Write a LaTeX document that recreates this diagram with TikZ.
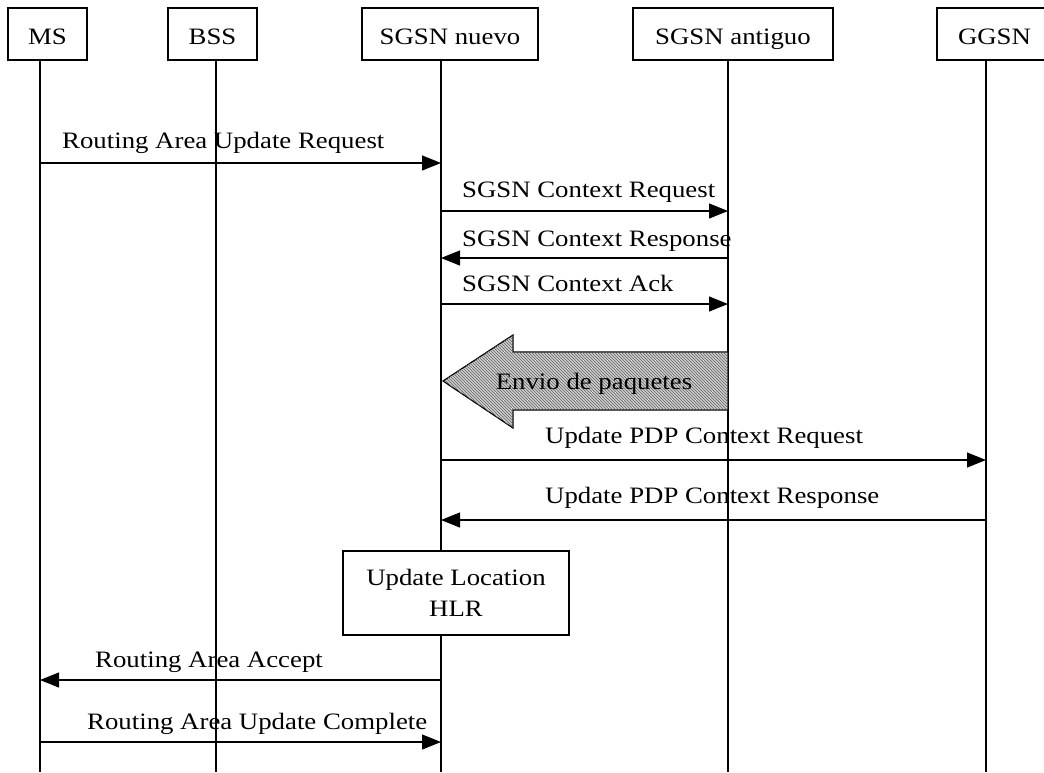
\documentclass[tikz,border=0pt]{standalone}
\usepackage{fontspec}
\setmainfont[FakeStretch=1.14]{Liberation Serif}
\usetikzlibrary{arrows.meta,patterns}
\begin{document}
\begin{tikzpicture}[x=1pt,y=-1pt,
  every node/.style={font=\fontsize{23.5}{31}\selectfont},
  entity/.style={draw,line width=1.2pt,inner sep=0pt,fill=white,
    text height=23pt,text depth=3pt},
  life/.style={line width=1.2pt},
  msg/.style={line width=1.2pt,-{Triangle[length=19pt,width=15pt]}},
  lbl/.style={anchor=base west,inner sep=0pt}]
\useasboundingbox (0,0) rectangle (1044,772);

% entity boxes
\node[entity,minimum width=79pt,minimum height=52pt] (ms) at (47.5,34) {MS};
\node[entity,minimum width=89pt,minimum height=52pt] (bss) at (212.5,34) {BSS};
\node[entity,minimum width=176pt,minimum height=52pt] (sgn) at (450,34) {SGSN nuevo};
\node[entity,minimum width=200pt,minimum height=52pt] (sgo) at (733,34) {SGSN antiguo};
\node[entity,minimum width=115pt,minimum height=52pt] (ggsn) at (994.5,34) {GGSN};

% lifelines
\coordinate (lms) at (40,60);   \coordinate (lbss) at (216,60);
\coordinate (lsgn) at (441,60); \coordinate (lsgo) at (728,60);
\coordinate (lgg) at (986,60);
\coordinate (bot) at (0,772);
\foreach \l in {lms,lbss,lsgn,lsgo,lgg}
  \draw[life] (\l) -- (\l |- bot);

% message rows
\coordinate (r1) at (0,163); \coordinate (r2) at (0,211);
\coordinate (r3) at (0,258); \coordinate (r4) at (0,304);
\coordinate (r5) at (0,460); \coordinate (r6) at (0,520);
\coordinate (r7) at (0,680); \coordinate (r8) at (0,742);

\draw[msg] (lms |- r1) -- (lsgn |- r1);
\node[lbl] (t1) at (62,148) {Routing Area Update Request};
\draw[msg] (lsgn |- r2) -- (lsgo |- r2);
\node[lbl] (t2) at (462,197) {SGSN Context Request};
\draw[msg] (lsgo |- r3) -- (lsgn |- r3);
\node[lbl] (t3) at (462,246) {SGSN Context Response};
\draw[msg] (lsgn |- r4) -- (lsgo |- r4);
\node[lbl] (t4) at (462,291) {SGSN Context Ack};

% packet forwarding arrow
\draw[line width=1.2pt,fill=gray!40,postaction={pattern=north west lines,pattern color=black!60}]
  (728,352) -- (513,352) -- (513,335) -- (443,381) -- (513,428) -- (513,410) -- (728,410) -- cycle;
\node (fw) at (594,384) {Envio de paquetes};

\draw[msg] (lsgn |- r5) -- (lgg |- r5);
\node[lbl] (t5) at (545,443) {Update PDP Context Request};
\draw[msg] (lgg |- r6) -- (lsgn |- r6);
\node[lbl] (t6) at (545,503) {Update PDP Context Response};

% location update
\node[draw,line width=1.2pt,fill=white,minimum width=226pt,minimum height=84pt,
  align=center] (hlr) at (456,593) {Update Location\\HLR};

\draw[msg] (lsgn |- r7) -- (lms |- r7);
\node[lbl] (t7) at (95,667) {Routing Area Accept};
\draw[msg] (lms |- r8) -- (lsgn |- r8);
\node[lbl] (t8) at (87,729) {Routing Area Update Complete};
\end{tikzpicture}
\end{document}
